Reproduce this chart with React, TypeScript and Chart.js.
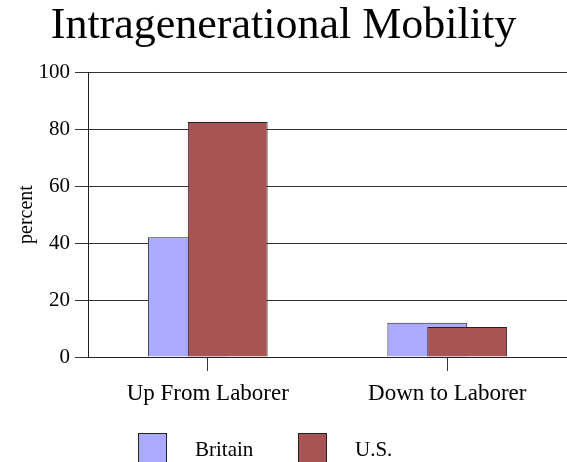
import React, { useEffect, useRef } from "react";
import { Chart, registerables } from "chart.js";

Chart.register(...registerables);

const categories = ["Up From Laborer", "Down to Laborer"];
const britainValues = [42, 12];
const usValues = [82.5, 10.5];
const seriesLabels = ["Britain", "U.S."];
const yTicks = [0, 20, 40, 60, 80, 100];

const FONT = "'Liberation Serif', 'DejaVu Serif', serif";

// Draw datasets in forward order so later series overlap earlier ones.
const forwardDrawPlugin = {
  id: "forwardDraw",
  beforeDatasetsDraw(chart: any) {
    const metas = chart.getSortedVisibleDatasetMetas();
    metas.forEach((meta: any) => meta.controller.draw());
    return false;
  },
};

const legendPlugin = {
  id: "customLegend",
  afterDraw(chart: any) {
    const ctx = chart.ctx as CanvasRenderingContext2D;
    ctx.save();
    chart.data.datasets.forEach((ds: any, i: number) => {
      const bx = 138 + i * 160;
      const by = 433;
      ctx.fillStyle = ds.backgroundColor;
      ctx.fillRect(bx, by, 28, 32);
      ctx.strokeStyle = "#222";
      ctx.lineWidth = 1;
      ctx.strokeRect(bx + 0.5, by + 0.5, 28, 32);
      ctx.fillStyle = "#000";
      ctx.font = `21px ${FONT}`;
      ctx.textAlign = "left";
      ctx.textBaseline = "alphabetic";
      ctx.fillText(ds.label, bx + 57, 456);
    });
    ctx.restore();
  },
};

export default function App() {
  const ref = useRef<HTMLCanvasElement | null>(null);

  useEffect(() => {
    if (!ref.current) return;
    const chart = new Chart(ref.current, {
      type: "bar",
      data: {
        labels: categories,
        datasets: [
          {
            label: seriesLabels[0],
            data: britainValues,
            backgroundColor: "#AAAAFF",
            borderColor: "#222222",
            borderWidth: 1,
          },
          {
            label: seriesLabels[1],
            data: usValues,
            backgroundColor: "#A85454",
            borderColor: "#222222",
            borderWidth: 1,
          },
        ],
      },
      options: {
        responsive: false,
        animation: false,
        devicePixelRatio: 1,
        categoryPercentage: 1 / 3,
        barPercentage: 2,
        layout: { padding: { top: 0, right: 0, bottom: 55, left: 0 } },
        plugins: {
          legend: { display: false },
          tooltip: { enabled: false },
          title: {
            display: true,
            text: "Intragenerational Mobility",
            color: "#000",
            font: { family: FONT, size: 44, weight: "normal", lineHeight: 1 },
            padding: { top: 4, bottom: 24 },
          },
        },
        scales: {
          x: {
            type: "category",
            offset: true,
            grid: {
              display: true,
              offset: false,
              drawOnChartArea: false,
              drawTicks: true,
              tickLength: 14,
              color: "#333",
            },
            border: { display: true, color: "#222" },
            ticks: {
              color: "#000",
              font: { family: FONT, size: 23 },
              padding: 9,
            },
            afterFit(scale: any) {
              scale.height = 50;
            },
          },
          y: {
            min: 0,
            max: 100,
            afterBuildTicks(scale: any) {
              scale.ticks = yTicks.map((v) => ({ value: v }));
            },
            grid: {
              color: "#333",
              tickLength: 13,
              drawTicks: true,
            },
            border: { display: true, color: "#222" },
            ticks: {
              color: "#000",
              font: { family: FONT, size: 21 },
              padding: 5,
            },
            title: {
              display: true,
              text: "percent",
              color: "#000",
              font: { family: FONT, size: 20 },
              padding: { top: 15, bottom: 0 },
            },
            afterFit(scale: any) {
              scale.width = 88;
            },
          },
        },
      },
      plugins: [forwardDrawPlugin, legendPlugin],
    });
    return () => chart.destroy();
  }, []);

  return (
    <div style={{ position: "absolute", left: 0, top: 0, width: 567, height: 462, background: "#fff" }}>
      <canvas ref={ref} width={567} height={462} style={{ display: "block" }} />
    </div>
  );
}
